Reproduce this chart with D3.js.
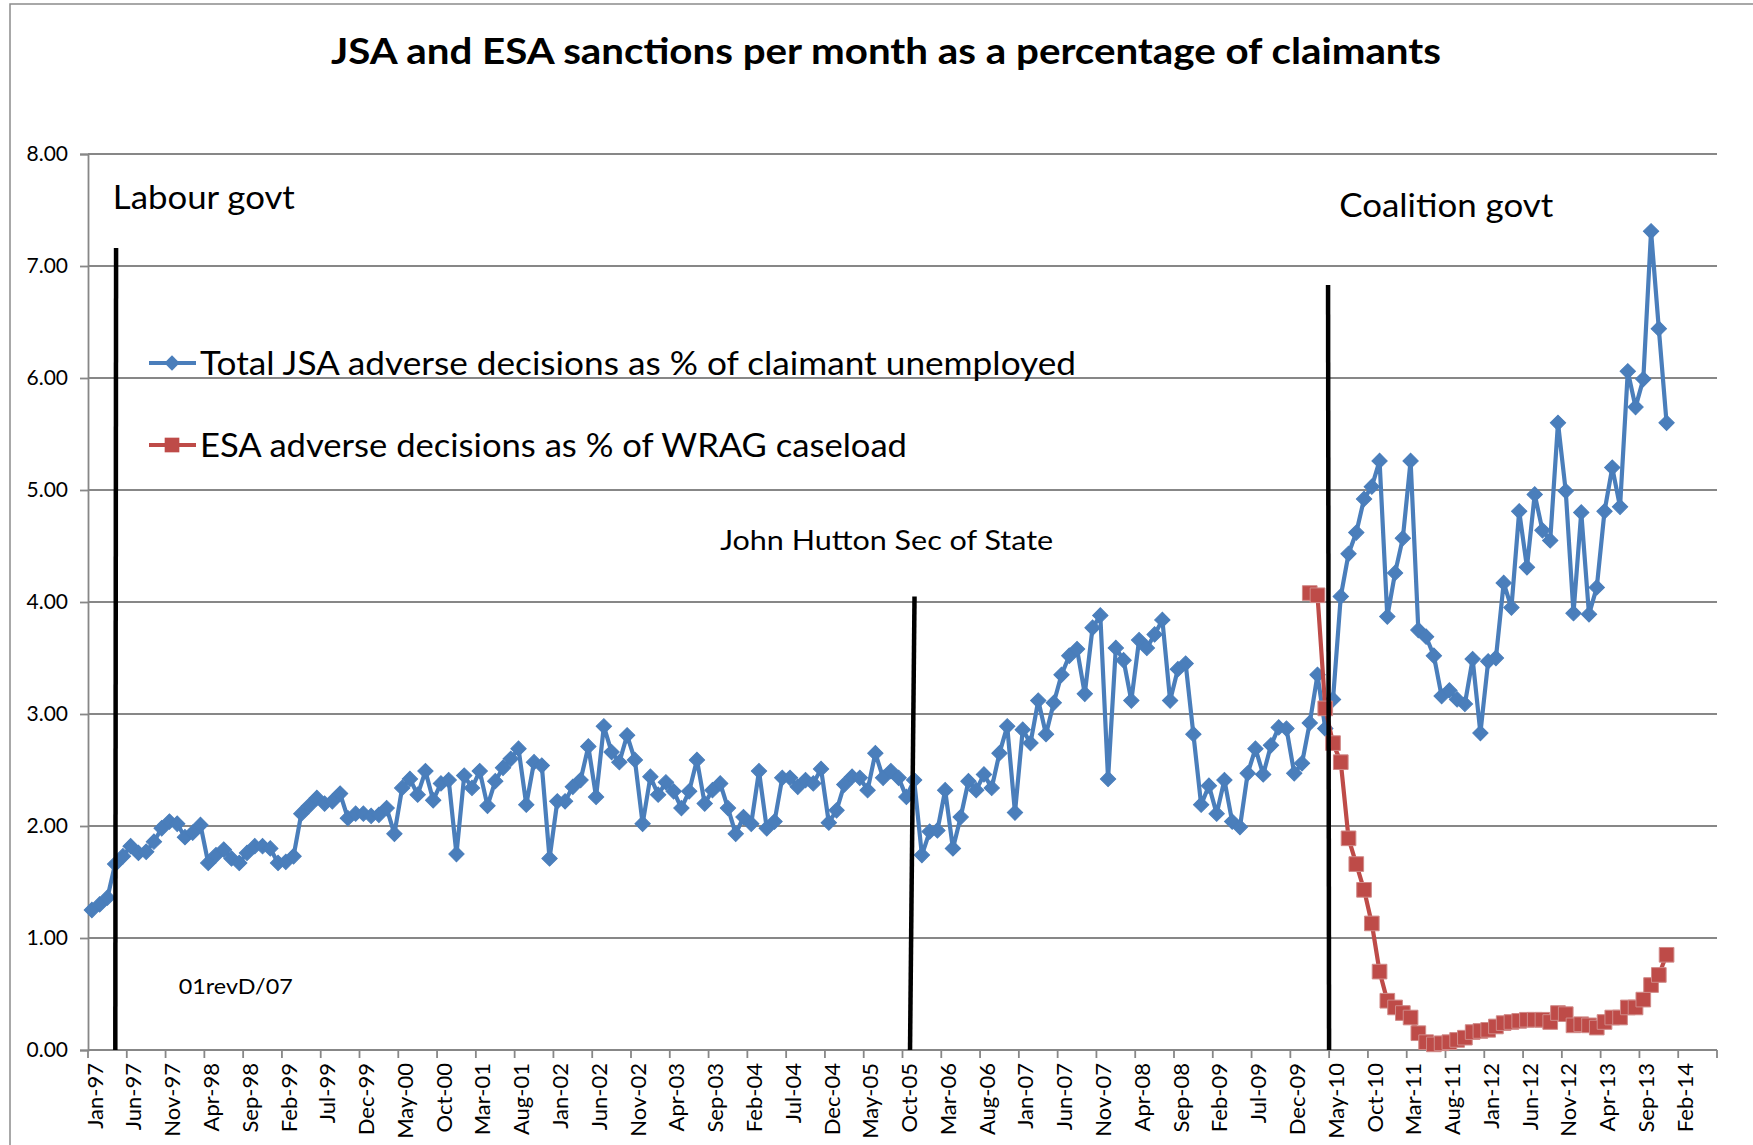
<!DOCTYPE html>
<html>
<head>
<meta charset="utf-8">
<script src="https://cdn.jsdelivr.net/npm/d3@7"></script>
<style>
  body { margin: 0; background: #ffffff; }
  svg { display: block; font-family: Lato, "Open Sans", sans-serif; }
</style>
</head>
<body>
<svg id="chart"></svg>
<script>

// category axis: one category per month, Jan-97 .. Jun-14, label every 5th
const nCategories = 210;
const tickEvery = 5;
const tickLabels = [
  "Jan-97", "Jun-97", "Nov-97", "Apr-98", "Sep-98", "Feb-99", "Jul-99", "Dec-99",
  "May-00", "Oct-00", "Mar-01", "Aug-01", "Jan-02", "Jun-02", "Nov-02", "Apr-03",
  "Sep-03", "Feb-04", "Jul-04", "Dec-04", "May-05", "Oct-05", "Mar-06", "Aug-06",
  "Jan-07", "Jun-07", "Nov-07", "Apr-08", "Sep-08", "Feb-09", "Jul-09", "Dec-09",
  "May-10", "Oct-10", "Mar-11", "Aug-11", "Jan-12", "Jun-12", "Nov-12", "Apr-13",
  "Sep-13", "Feb-14"
];
const yTicks = [0, 1, 2, 3, 4, 5, 6, 7, 8];

// JSA, monthly from Jan-97 to Dec-13
const jsaValues = [
  1.25, 1.30, 1.36, 1.66, 1.73, 1.82, 1.76, 1.77, 1.86, 1.98, 2.04, 2.02,
  1.90, 1.94, 2.01, 1.67, 1.74, 1.79, 1.71, 1.67, 1.76, 1.82, 1.82, 1.80,
  1.67, 1.68, 1.73, 2.11, 2.18, 2.25, 2.20, 2.22, 2.29, 2.07, 2.11, 2.11,
  2.09, 2.10, 2.16, 1.93, 2.34, 2.42, 2.28, 2.49, 2.23, 2.38, 2.41, 1.75,
  2.45, 2.34, 2.49, 2.18, 2.40, 2.52, 2.60, 2.69, 2.19, 2.57, 2.54, 1.71,
  2.22, 2.22, 2.35, 2.41, 2.71, 2.26, 2.89, 2.66, 2.57, 2.81, 2.59, 2.02,
  2.44, 2.28, 2.39, 2.31, 2.16, 2.31, 2.59, 2.20, 2.32, 2.38, 2.16, 1.93,
  2.08, 2.02, 2.49, 1.98, 2.04, 2.43, 2.43, 2.35, 2.41, 2.38, 2.51, 2.03,
  2.14, 2.37, 2.44, 2.43, 2.32, 2.65, 2.43, 2.49, 2.43, 2.26, 2.41, 1.74,
  1.95, 1.96, 2.32, 1.80, 2.08, 2.40, 2.32, 2.46, 2.34, 2.65, 2.89, 2.12,
  2.86, 2.74, 3.12, 2.82, 3.10, 3.35, 3.52, 3.58, 3.18, 3.77, 3.88, 2.42,
  3.59, 3.48, 3.12, 3.66, 3.59, 3.71, 3.84, 3.12, 3.40, 3.45, 2.82, 2.19,
  2.36, 2.11, 2.41, 2.04, 1.99, 2.47, 2.69, 2.46, 2.72, 2.88, 2.87, 2.47,
  2.56, 2.92, 3.35, 2.87, 3.13, 4.05, 4.43, 4.62, 4.92, 5.03, 5.26, 3.87,
  4.26, 4.57, 5.26, 3.75, 3.69, 3.52, 3.16, 3.21, 3.13, 3.09, 3.49, 2.83,
  3.47, 3.50, 4.17, 3.95, 4.81, 4.31, 4.96, 4.64, 4.55, 5.60, 4.99, 3.90,
  4.80, 3.89, 4.13, 4.81, 5.20, 4.85, 6.06, 5.74, 5.99, 7.31, 6.44, 5.60
];

// ESA, monthly from Feb-10 to Dec-13
const esaStart = 157;
const esaValues = [
  4.08, 4.06, 3.05, 2.74, 2.57, 1.89, 1.66, 1.43, 1.13, 0.70, 0.44,
  0.38, 0.33, 0.29, 0.15, 0.07, 0.05, 0.06, 0.07, 0.09, 0.11, 0.16,
  0.17, 0.18, 0.21, 0.24, 0.25, 0.26, 0.27, 0.27, 0.27, 0.25, 0.33,
  0.32, 0.22, 0.23, 0.22, 0.20, 0.25, 0.29, 0.29, 0.38, 0.38, 0.45,
  0.58, 0.67, 0.85
];

const seriesNames = [
  "Total JSA adverse decisions as % of claimant unemployed",
  "ESA adverse decisions as % of WRAG caseload"
];

// hand drawn lines on the chart, [category, value] at both ends
const govtLines = [
  { top: [3.62, 7.16], bottom: [3.52, 0] },
  { top: [106.55, 4.05], bottom: [105.97, 0] },
  { top: [159.86, 6.83], bottom: [159.99, 0] }
];
const noteTexts = ["Labour govt", "Coalition govt", "John Hutton Sec of State", "01revD/07"];

const width = 1753;
const height = 1145;
const plot = { left: 88, right: 1717, top: 154, bottom: 1050 };
const jsaColor = "#4A7EBB";
const esaColor = "#BE4B48";
const gridColor = "#878787";

const svg = d3.select("#chart")
  .attr("width", width)
  .attr("height", height);

// outer chart frame
svg.append("rect")
  .attr("x", 10).attr("y", 4)
  .attr("width", width + 20).attr("height", height + 20)
  .attr("fill", "#fff")
  .attr("stroke", "#8c8c8c")
  .attr("stroke-width", 1.5);

const xPos = d3.scaleLinear()
  .domain([0, nCategories])
  .range([plot.left, plot.right]);
const y = d3.scaleLinear()
  .domain([0, 8])
  .range([plot.bottom, plot.top]);

const cx = (i) => xPos(i + 0.5);

// fit a text element to a target width (Calibri is narrower than what we have)
function fit(sel, w) {
  sel.attr("textLength", w).attr("lengthAdjust", "spacingAndGlyphs");
}

svg.append("text")
  .text("JSA and ESA sanctions per month as a percentage of claimants")
  .attr("x", 886)
  .attr("y", 64)
  .attr("text-anchor", "middle")
  .attr("font-size", 37)
  .attr("font-weight", "bold")
  .attr("fill", "#000")
  .call(fit, 1110);

// gridlines
svg.append("g")
  .selectAll("line")
  .data(yTicks.filter((d) => d > 0))
  .enter()
  .append("line")
  .attr("x1", plot.left)
  .attr("x2", plot.right)
  .attr("y1", (d) => y(d))
  .attr("y2", (d) => y(d))
  .attr("stroke", gridColor)
  .attr("stroke-width", 1.8);

// y axis
const yAxis = svg.append("g")
  .attr("transform", `translate(${plot.left},0)`)
  .call(d3.axisLeft(y).tickValues(yTicks).tickFormat(d3.format(".2f")).tickSize(8).tickPadding(12));
yAxis.select(".domain").attr("stroke", gridColor).attr("stroke-width", 1.8);
yAxis.selectAll(".tick line").attr("stroke", gridColor).attr("stroke-width", 1.8);
yAxis.selectAll(".tick text")
  .attr("font-family", "Lato, sans-serif")
  .attr("font-size", 21)
  .attr("fill", "#000");

// x axis: ticks on category boundaries, rotated labels at category centres
const xg = svg.append("g");
xg.append("line")
  .attr("x1", plot.left).attr("x2", plot.right)
  .attr("y1", plot.bottom).attr("y2", plot.bottom)
  .attr("stroke", gridColor)
  .attr("stroke-width", 1.8);
xg.selectAll(".xtick")
  .data(d3.range(0, nCategories + 1, tickEvery))
  .enter()
  .append("line")
  .attr("x1", (d) => xPos(d))
  .attr("x2", (d) => xPos(d))
  .attr("y1", plot.bottom)
  .attr("y2", plot.bottom + 8)
  .attr("stroke", gridColor)
  .attr("stroke-width", 1.8);
xg.selectAll("text")
  .data(tickLabels)
  .enter()
  .append("text")
  .text((d) => d)
  .attr("transform", (d, k) => `translate(${cx(k * tickEvery) + 3},${plot.bottom + 13}) rotate(-90)`)
  .attr("text-anchor", "end")
  .attr("dy", "0.35em")
  .attr("font-size", 22)
  .attr("fill", "#000");

// series
const jsaData = jsaValues.map((v, i) => ({ i: i, v: v }));
const esaData = esaValues.map((v, k) => ({ i: esaStart + k, v: v }));

const line = d3.line()
  .x((d) => cx(d.i))
  .y((d) => y(d.v));

const diamond = d3.symbol(d3.symbolSquare, 118);
const square = d3.symbol(d3.symbolSquare, 215);

svg.append("path")
  .datum(jsaData)
  .attr("d", line)
  .attr("fill", "none")
  .attr("stroke", jsaColor)
  .attr("stroke-width", 4.2)
  .attr("stroke-linejoin", "round");
svg.append("g")
  .selectAll("path")
  .data(jsaData)
  .enter()
  .append("path")
  .attr("d", diamond)
  .attr("transform", (d) => `translate(${cx(d.i)},${y(d.v)}) rotate(45)`)
  .attr("fill", jsaColor)
  .attr("stroke", jsaColor)
  .attr("stroke-width", 1);

svg.append("path")
  .datum(esaData)
  .attr("d", line)
  .attr("fill", "none")
  .attr("stroke", esaColor)
  .attr("stroke-width", 4.2)
  .attr("stroke-linejoin", "round");
svg.append("g")
  .selectAll("path")
  .data(esaData)
  .enter()
  .append("path")
  .attr("d", square)
  .attr("transform", (d) => `translate(${cx(d.i)},${y(d.v)})`)
  .attr("fill", esaColor)
  .attr("stroke", "#d08a88")
  .attr("stroke-width", 1);

// government lines
svg.append("g")
  .selectAll("line")
  .data(govtLines)
  .enter()
  .append("line")
  .attr("x1", (d) => xPos(d.top[0]))
  .attr("y1", (d) => y(d.top[1]))
  .attr("x2", (d) => xPos(d.bottom[0]))
  .attr("y2", (d) => y(d.bottom[1]))
  .attr("stroke", "#000")
  .attr("stroke-width", 4.5);

// notes: [category, value] of text start, font size, width
const noteLayout = [
  { at: [3.2, 7.51], size: 32, w: 182 },
  { at: [161.3, 7.44], size: 32, w: 214 },
  { at: [81.5, 4.46], size: 27, w: 333 },
  { at: [11.7, 0.50], size: 21, w: 114 }
];
noteTexts.forEach((t, k) => {
  const n = noteLayout[k];
  svg.append("text")
    .text(t)
    .attr("x", xPos(n.at[0]))
    .attr("y", y(n.at[1]))
    .attr("font-size", n.size)
    .attr("fill", "#000")
    .call(fit, n.w);
});

// legend
const legend = svg.append("g");
const legendRows = [
  { y: 363, color: jsaColor, sym: diamond, rot: 45, w: 876 },
  { y: 445, color: esaColor, sym: square, rot: 0, w: 707 }
];
legendRows.forEach((r, k) => {
  legend.append("line")
    .attr("x1", 149).attr("x2", 196)
    .attr("y1", r.y).attr("y2", r.y)
    .attr("stroke", r.color)
    .attr("stroke-width", 4.2);
  legend.append("path")
    .attr("d", r.sym)
    .attr("transform", `translate(172,${r.y}) rotate(${r.rot})`)
    .attr("fill", r.color);
  legend.append("text")
    .text(seriesNames[k])
    .attr("x", 200)
    .attr("y", r.y + 12)
    .attr("font-size", 32)
    .attr("fill", "#000")
    .call(fit, r.w);
});

</script>
</body>
</html>
